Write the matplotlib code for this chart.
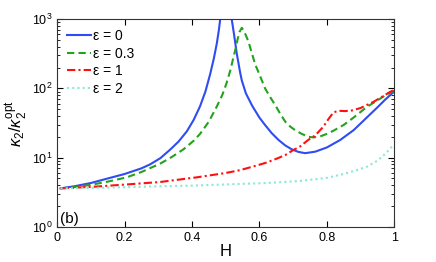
import matplotlib
matplotlib.use("Agg")
import matplotlib.pyplot as plt

plt.rcParams['font.family'] = ['Liberation Sans', 'DejaVu Sans']
plt.rcParams['mathtext.fontset'] = 'custom'
plt.rcParams['mathtext.rm'] = 'Liberation Sans'
plt.rcParams['mathtext.it'] = 'Liberation Sans:italic'

# eps = 0, left branch (up to the pole) and right branch
h0a = [0.01, 0.05, 0.1, 0.15, 0.2, 0.25, 0.276, 0.306, 0.335, 0.36, 0.385, 0.405, 0.424, 0.44, 0.454, 0.465, 0.474, 0.48, 0.485, 0.49]
k0a = [3.6, 3.85, 4.3, 5.0, 5.8, 7.0, 8.0, 9.8, 13.0, 17, 24, 35, 55, 90, 160, 270, 450, 700, 1100, 2000]
h0b = [0.51, 0.518, 0.525, 0.533, 0.543, 0.548, 0.56, 0.578, 0.6, 0.617, 0.637, 0.657, 0.677, 0.696, 0.716, 0.736, 0.766, 0.8, 0.84, 0.88, 0.919, 0.95, 0.975, 1.0]
k0b = [2000, 1000, 600, 320, 170, 130, 85, 57, 38, 29.6, 22.5, 18, 15, 13.2, 12.1, 11.6, 12.2, 14, 18, 25, 38, 53, 70, 90]

# eps = 0.3
h03 = [0.01, 0.05, 0.1, 0.15, 0.207, 0.25, 0.306, 0.34, 0.375, 0.405, 0.424, 0.45, 0.474, 0.49, 0.503, 0.515, 0.523, 0.53, 0.535, 0.541, 0.548,
       0.556, 0.568, 0.578, 0.588, 0.6, 0.617, 0.632, 0.647, 0.662, 0.677, 0.692, 0.706, 0.726, 0.746, 0.76, 0.78, 0.8, 0.82, 0.85, 0.88, 0.919, 0.95, 0.975, 1.0]
k03 = [3.6, 3.75, 4.05, 4.5, 5.2, 6.2, 8.2, 10.2, 13.2, 17.5, 22, 33, 55, 80, 120, 190, 280, 380, 500, 650, 750,
       650, 470, 320, 220, 160, 100, 75, 57.5, 43, 33, 28, 25, 22, 20, 19.6, 20.2, 22, 24.5, 29.6, 38, 54, 67, 80, 93]

# eps = 1
h1 = [0.01, 0.108, 0.207, 0.306, 0.415, 0.5, 0.543, 0.588, 0.622, 0.65, 0.677, 0.7, 0.721, 0.745, 0.766, 0.79, 0.805, 0.82, 0.835, 0.855, 0.875, 0.9, 0.939, 0.965, 0.988, 1.0]
k1 = [3.6, 3.8, 4.1, 4.45, 5.2, 6.0, 6.6, 7.6, 8.5, 9.6, 10.9, 12.8, 14.5, 18, 21, 28, 36, 45, 47.5, 47, 48, 52, 64, 76, 89, 95]

# eps = 2
h2 = [0.01, 0.1, 0.207, 0.3, 0.405, 0.5, 0.622, 0.72, 0.8, 0.85, 0.889, 0.919, 0.95, 0.975, 0.988, 1.0]
k2 = [3.6, 3.65, 3.75, 3.85, 3.95, 4.1, 4.3, 4.6, 5.1, 5.8, 6.6, 7.4, 9.0, 11.5, 13.5, 15.5]

c_blue = '#2f4cf2'
c_green = '#21a31c'
c_red = '#ff1010'
c_cyan = '#8ae8d6'

fig = plt.figure(figsize=(4.36, 2.62), dpi=100)
ax = fig.add_axes([0.131, 0.134, 0.773, 0.793])

ax.plot(h0a, k0a, color=c_blue, linewidth=1.5, label='ε = 0')
ax.plot(h0b, k0b, color=c_blue, linewidth=1.5)
ax.plot(h03, k03, color=c_green, linewidth=1.5, linestyle=(0, (3.5, 2)), label='ε = 0.3')
ax.plot(h1, k1, color=c_red, linewidth=1.5, linestyle=(0, (4, 1.5, 1, 1.5)), label='ε = 1')
ax.plot(h2, k2, color=c_cyan, linewidth=1.5, linestyle=(0, (1, 1.5)), label='ε = 2')

ax.set_yscale('log')
ax.set_xlim(0, 1)
ax.set_ylim(1, 1000)
ax.set_xticks([0, 0.2, 0.4, 0.6, 0.8, 1])
ax.set_xticklabels(['0', '0.2', '0.4', '0.6', '0.8', '1'])
ax.tick_params(which='both', direction='in', top=True, right=True, labelsize=9)
ax.tick_params(which='major', length=4)
ax.tick_params(which='minor', length=2)
for s in ax.spines.values():
    s.set_linewidth(0.8)
    s.set_color('#333333')

ax.set_xlabel('H', fontsize=12, labelpad=0)
ax.set_ylabel(r'$\kappa_2/\kappa_2^{\rm opt}$', fontsize=12, labelpad=2)

ax.text(0.008, 1.12, '(b)', fontsize=11)

leg = ax.legend(loc='upper left', frameon=False, fontsize=10, handlelength=1.75,
                handletextpad=0.1, labelspacing=0.27, borderaxespad=0.3)

plt.savefig('out.png', dpi=100)
